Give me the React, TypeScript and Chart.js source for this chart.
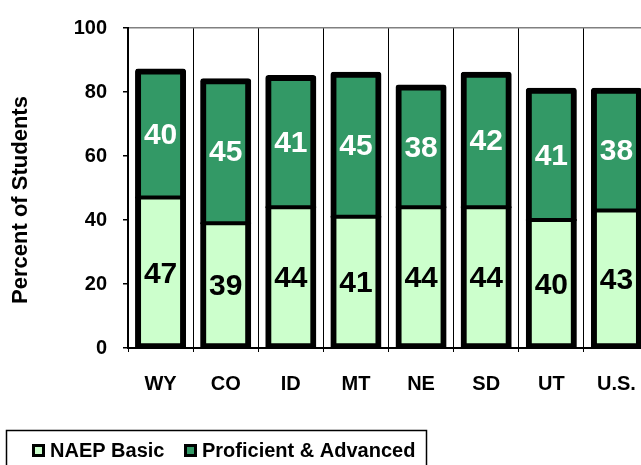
import React, { useEffect, useRef } from 'react';
import { Chart, registerables } from 'chart.js';

Chart.register(...registerables);

const categories = ['WY', 'CO', 'ID', 'MT', 'NE', 'SD', 'UT', 'U.S.'];
const basicValues = [47, 39, 44, 41, 44, 44, 40, 43];
const proficientValues = [40, 45, 41, 45, 38, 42, 41, 38];
const seriesLabels = ['NAEP Basic', 'Proficient & Advanced'];
const seriesColors = ['#CCFFCC', '#339966'];
const labelColors = ['#000000', '#FFFFFF'];
const yTicks = [0, 20, 40, 60, 80, 100];
const yTitle = 'Percent of Students';

const FONT = "'Liberation Sans', Arial, Helvetica, sans-serif";

const segmentLabels = {
  id: 'segmentLabels',
  afterDatasetsDraw(chart: any) {
    const ctx = chart.ctx;
    ctx.save();
    ctx.font = `bold 30px ${FONT}`;
    ctx.textAlign = 'center';
    ctx.textBaseline = 'middle';
    chart.data.datasets.forEach((ds: any, i: number) => {
      const meta = chart.getDatasetMeta(i);
      ctx.fillStyle = labelColors[i];
      meta.data.forEach((el: any, j: number) => {
        const p = el.getProps(['x', 'y', 'base'], true);
        ctx.fillText(String(ds.data[j]), p.x, (p.y + p.base) / 2 + 2);
      });
    });
    ctx.restore();
  },
};

const sideTitle = {
  id: 'sideTitle',
  afterDraw(chart: any) {
    const ctx = chart.ctx;
    ctx.save();
    ctx.translate(21, 200);
    ctx.rotate(-Math.PI / 2);
    ctx.font = `bold 22px ${FONT}`;
    ctx.fillStyle = '#000';
    ctx.textAlign = 'center';
    ctx.textBaseline = 'middle';
    ctx.fillText(yTitle, 0, 0);
    ctx.restore();
  },
};

const boxedLegend = {
  id: 'boxedLegend',
  afterDraw(chart: any) {
    const ctx = chart.ctx;
    ctx.save();
    ctx.strokeStyle = '#000';
    ctx.lineWidth = 1.5;
    ctx.strokeRect(6.5, 430.5, 420, 60);
    ctx.font = `bold 20px ${FONT}`;
    ctx.textBaseline = 'middle';
    ctx.textAlign = 'left';
    const markerX = [32, 184];
    chart.data.datasets.forEach((ds: any, i: number) => {
      const mx = markerX[i];
      ctx.fillStyle = '#000';
      ctx.fillRect(mx, 444, 13, 13);
      ctx.fillStyle = ds.backgroundColor;
      ctx.fillRect(mx + 3, 447, 7, 7);
      ctx.fillStyle = '#000';
      ctx.fillText(ds.label, mx + 18, 451);
    });
    ctx.restore();
  },
};

export default function App() {
  const canvasRef = useRef<HTMLCanvasElement>(null);

  useEffect(() => {
    document.body.style.margin = '0';
    const canvas = canvasRef.current;
    if (!canvas) return;
    const tickFont = { family: FONT, size: 20, weight: 'bold' as const };
    const chart = new Chart(canvas, {
      type: 'bar',
      data: {
        labels: categories,
        datasets: [
          {
            label: seriesLabels[0],
            data: basicValues,
            backgroundColor: seriesColors[0],
            borderColor: '#000',
            borderWidth: { left: 6, right: 6, top: 3, bottom: 5 },
            borderSkipped: false,
            inflateAmount: 1,
            barPercentage: 0.753,
            categoryPercentage: 1,
          },
          {
            label: seriesLabels[1],
            data: proficientValues,
            backgroundColor: seriesColors[1],
            borderColor: '#000',
            borderWidth: { left: 6, right: 6, top: 6, bottom: 3 },
            borderSkipped: false,
            inflateAmount: 1,
            borderRadius: { topLeft: 3, topRight: 3, bottomLeft: 0, bottomRight: 0 },
            barPercentage: 0.753,
            categoryPercentage: 1,
          },
        ],
      },
      options: {
        responsive: false,
        animation: false,
        devicePixelRatio: 1,
        layout: { padding: { top: 17, right: 31, bottom: 0, left: 0 } },
        plugins: {
          legend: { display: false },
          tooltip: { enabled: false },
          title: { display: false },
        },
        scales: {
          x: {
            stacked: true,
            grid: {
              offset: true,
              color: '#000',
              lineWidth: 1,
              tickLength: 4,
              tickColor: '#000',
            },
            border: { color: '#000', width: 2 },
            ticks: { font: tickFont, color: '#000', padding: 20, maxRotation: 0 },
            afterFit: (s: any) => {
              s.height = 117;
            },
          },
          y: {
            stacked: true,
            min: 0,
            max: 100,
            afterBuildTicks: (s: any) => {
              s.ticks = yTicks.map((v) => ({ value: v }));
            },
            grid: {
              color: (c: any) => (c.tick && c.tick.value === 100 ? '#808080' : 'rgba(0,0,0,0)'),
              lineWidth: 1.5,
              tickLength: 5,
              tickColor: '#000',
              tickWidth: 1.5,
            },
            border: { color: '#000', width: 2 },
            ticks: { font: tickFont, color: '#000', padding: 16 },
            afterFit: (s: any) => {
              s.width = 128;
            },
          },
        },
      },
      plugins: [segmentLabels, sideTitle, boxedLegend],
    });
    return () => chart.destroy();
  }, []);

  return (
    <div
      style={{
        position: 'absolute',
        left: 0,
        top: 0,
        width: 641,
        height: 465,
        overflow: 'hidden',
        background: '#fff',
      }}
    >
      <canvas ref={canvasRef} width={680} height={465} style={{ display: 'block' }} />
    </div>
  );
}
